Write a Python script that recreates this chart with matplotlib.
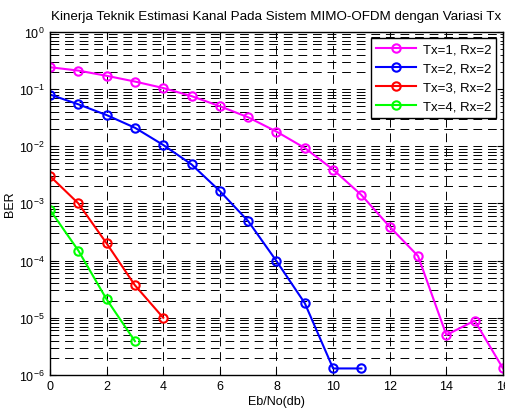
import matplotlib
matplotlib.use("Agg")
import matplotlib.pyplot as plt
from matplotlib.ticker import LogLocator, NullFormatter

plt.rcParams["font.family"] = ["Liberation Sans", "DejaVu Sans"]

ebno_tx1 = list(range(0, 17))
ber_tx1 = [0.24, 0.21, 0.17, 0.135, 0.104, 0.075, 0.05, 0.032, 0.018, 0.0093,
           0.0039, 0.0014, 3.9e-4, 1.2e-4, 5.0e-6, 8.9e-6, 1.3e-6]
ebno_tx2 = list(range(0, 12))
ber_tx2 = [0.08, 0.054, 0.035, 0.021, 0.0105, 0.0048, 0.00164, 4.9e-4,
           9.8e-5, 1.8e-5, 1.3e-6, 1.3e-6]
ebno_tx3 = list(range(0, 5))
ber_tx3 = [0.0030, 1.0e-3, 2.0e-4, 3.7e-5, 1.0e-5]
ebno_tx4 = list(range(0, 4))
ber_tx4 = [7.7e-4, 1.5e-4, 2.1e-5, 3.9e-6]

labels = ["Tx=1, Rx=2", "Tx=2, Rx=2", "Tx=3, Rx=2", "Tx=4, Rx=2"]
colors = ["#ff00ff", "#0000ff", "#ff0000", "#00ff00"]
xticks = [0, 2, 4, 6, 8, 10, 12, 14, 16]

fig = plt.figure(figsize=(5.05, 4.10), dpi=100)
ax = fig.add_axes([0.099, 0.083, 0.897, 0.837])

series = [(ebno_tx1, ber_tx1), (ebno_tx2, ber_tx2), (ebno_tx3, ber_tx3), (ebno_tx4, ber_tx4)]
for (x, y), lab, c in zip(series, labels, colors):
    ax.semilogy(x, y, "-o", color=c, label=lab, lw=1.5, ms=6,
                mfc="none", mew=1.5)

ax.set_xlim(0, 16)
ax.set_ylim(1e-6, 1)
ax.set_xticks(xticks)
ax.yaxis.set_major_locator(LogLocator(base=10, numticks=10))
ax.yaxis.set_minor_locator(LogLocator(base=10, subs=range(2, 10), numticks=20))
ax.yaxis.set_minor_formatter(NullFormatter())

dash = (0, (9, 6))
ax.grid(True, which="major", color="black", lw=0.7, linestyle=dash)
ax.grid(True, which="minor", axis="y", color="black", lw=0.7, linestyle=dash)
ax.tick_params(which="both", direction="in", top=True, right=True,
               labelsize=9, colors="black")
ax.tick_params(axis="y", pad=4)
ax.tick_params(which="major", length=4)
ax.tick_params(which="minor", length=2)
for s in ax.spines.values():
    s.set_linewidth(1.0)

ax.set_title("Kinerja Teknik Estimasi Kanal Pada Sistem MIMO-OFDM dengan Variasi Tx",
             fontsize=9.6, pad=9)
ax.set_xlabel("Eb/No(db)", fontsize=9, labelpad=2)
ax.set_ylabel("BER", fontsize=9, labelpad=2)

leg = ax.legend(loc="upper right", fontsize=9.5, fancybox=False, framealpha=1,
                edgecolor="black", handlelength=3.0, borderaxespad=0.5,
                labelspacing=0.5, handletextpad=0.5)
leg.get_frame().set_linewidth(1.0)

fig.savefig("out.png", dpi=100)
